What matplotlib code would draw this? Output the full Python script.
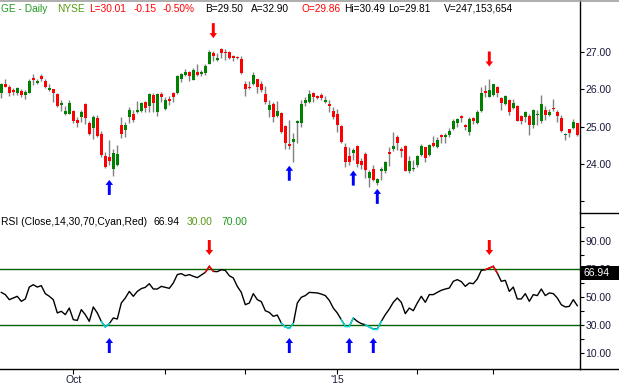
import numpy as np
import matplotlib.pyplot as plt
from matplotlib.transforms import blended_transform_factory, offset_copy
from matplotlib.lines import Line2D
from matplotlib.patches import Rectangle

plt.rcParams['font.family'] = ['Liberation Sans', 'DejaVu Sans']

# daily OHLC (Sep 2014 - Mar 2015)
opens = [25.89, 26.14, 26.05, 25.98, 25.89, 25.95, 25.84, 25.91, 26.30, 26.17,
         26.36, 26.22, 25.97, 26.01, 25.88, 25.59, 25.35, 25.35, 25.42, 25.19,
         25.27, 25.61, 25.10, 24.97, 25.23, 24.80, 24.21, 24.19, 23.86, 23.98,
         25.05, 24.91, 25.27, 25.34, 25.39, 25.42, 25.66, 25.56, 25.85, 25.39,
         25.88, 25.47, 25.74, 25.90, 25.89, 26.29, 26.39, 26.46, 26.26, 26.46,
         26.42, 26.45, 26.69, 26.98, 26.79, 27.08, 27.01, 27.01, 26.90, 26.86,
         26.81, 26.15, 26.05, 26.14, 26.28, 26.13, 25.87, 25.45, 25.62, 25.29,
         25.36, 25.02, 24.54, 24.59, 25.11, 25.11, 25.63, 25.66, 25.91, 25.80,
         25.85, 25.67, 25.61, 25.43, 25.34, 25.02, 24.46, 24.21, 24.30, 24.48,
         24.07, 24.26, 23.62, 23.86, 23.48, 23.82, 23.82, 24.30, 24.39, 24.73,
         24.40, 24.49, 23.82, 23.87, 23.97, 24.24, 24.45, 24.24, 24.55, 24.46,
         24.78, 24.71, 24.78, 24.95, 25.09, 25.29, 25.05, 24.87, 25.22, 25.11,
         25.43, 25.96, 25.80, 25.85, 26.07, 25.76, 25.61, 25.71, 25.49, 25.54,
         25.29, 25.27, 25.29, 25.05, 25.31, 25.16, 25.45, 25.31, 25.47, 25.40,
         25.22, 24.78, 24.93, 24.97, 25.11]
highs = [26.16, 26.27, 26.11, 26.03, 26.07, 26.00, 25.98, 26.27, 26.41, 26.27,
         26.41, 26.27, 26.14, 26.02, 25.89, 25.71, 25.54, 25.71, 25.45, 25.27,
         25.45, 25.64, 25.16, 25.30, 25.31, 24.89, 24.33, 24.64, 24.39, 24.50,
         25.27, 25.13, 25.52, 25.45, 25.69, 25.67, 25.70, 25.91, 25.91, 25.89,
         25.93, 25.80, 25.82, 25.93, 26.38, 26.43, 26.54, 26.50, 26.56, 26.68,
         26.52, 26.68, 27.05, 27.04, 26.96, 27.11, 27.07, 27.04, 26.93, 26.88,
         26.89, 26.22, 26.21, 26.47, 26.29, 26.21, 26.09, 25.71, 25.66, 25.70,
         25.40, 25.04, 25.18, 24.82, 25.18, 25.71, 25.80, 25.98, 25.94, 25.84,
         25.89, 25.82, 25.71, 25.52, 25.46, 25.04, 24.57, 24.45, 24.42, 24.51,
         24.15, 24.33, 23.84, 23.97, 23.62, 23.93, 24.09, 24.46, 24.86, 24.78,
         24.45, 24.51, 24.22, 24.11, 24.24, 24.54, 24.46, 24.54, 24.75, 24.71,
         24.80, 24.84, 24.96, 25.20, 25.22, 25.30, 25.07, 25.27, 25.25, 25.45,
         26.07, 26.12, 26.29, 26.14, 26.09, 25.79, 25.84, 25.73, 25.73, 25.58,
         25.31, 25.43, 25.34, 25.46, 25.45, 25.85, 25.54, 25.46, 25.73, 25.45,
         25.31, 24.84, 24.95, 25.20, 25.11]
lows = [25.78, 26.05, 25.82, 25.84, 25.84, 25.79, 25.75, 25.89, 26.11, 26.13,
        26.22, 26.04, 25.95, 25.67, 25.52, 25.43, 25.31, 25.33, 25.09, 25.00,
        25.13, 25.07, 24.77, 24.66, 24.72, 24.20, 23.89, 23.97, 23.68, 23.95,
        24.69, 24.71, 25.11, 25.12, 25.36, 25.38, 25.39, 25.39, 25.38, 25.29,
        25.67, 25.45, 25.57, 25.66, 25.87, 26.20, 26.36, 26.23, 26.25, 26.36,
        26.37, 26.39, 26.67, 26.76, 26.77, 26.85, 26.79, 26.80, 26.77, 26.80,
        26.41, 25.83, 26.00, 26.12, 25.91, 25.94, 25.61, 25.27, 25.13, 25.27,
        24.82, 24.40, 24.39, 24.06, 24.55, 25.00, 25.55, 25.63, 25.66, 25.75,
        25.71, 25.63, 25.40, 25.20, 24.87, 24.55, 23.93, 23.97, 24.11, 23.93,
        23.86, 23.63, 23.39, 23.55, 23.44, 23.57, 23.75, 23.95, 24.36, 24.37,
        24.20, 23.80, 23.77, 23.82, 23.93, 24.22, 24.06, 24.22, 24.46, 24.42,
        24.55, 24.55, 24.71, 24.91, 24.98, 25.13, 24.91, 24.78, 25.07, 25.07,
        25.40, 25.80, 25.79, 25.82, 25.79, 25.45, 25.58, 25.31, 25.46, 25.14,
        25.07, 25.13, 24.78, 24.96, 25.05, 25.11, 25.18, 25.29, 25.43, 25.13,
        24.87, 24.64, 24.71, 24.94, 24.76]
closes = [26.13, 26.07, 25.89, 25.94, 26.03, 25.86, 25.93, 26.22, 26.25, 26.22,
          26.27, 26.07, 26.04, 25.91, 25.54, 25.64, 25.43, 25.64, 25.16, 25.11,
          25.39, 25.22, 24.79, 25.26, 24.75, 24.24, 23.93, 24.09, 24.29, 24.27,
          24.81, 25.05, 25.45, 25.18, 25.45, 25.63, 25.50, 25.88, 25.64, 25.88,
          25.80, 25.71, 25.70, 25.80, 26.36, 26.41, 26.46, 26.36, 26.52, 26.38,
          26.47, 26.62, 27.01, 26.90, 26.85, 26.98, 26.98, 26.85, 26.85, 26.84,
          26.45, 26.01, 26.03, 26.38, 26.07, 25.98, 25.67, 25.58, 25.27, 25.42,
          24.87, 24.57, 24.48, 24.68, 25.16, 25.62, 25.71, 25.87, 25.80, 25.78,
          25.78, 25.72, 25.56, 25.27, 25.04, 24.60, 24.06, 24.06, 24.38, 24.00,
          23.97, 23.84, 23.78, 23.57, 23.59, 23.87, 24.06, 24.28, 24.48, 24.57,
          24.36, 23.82, 24.08, 23.90, 24.22, 24.48, 24.15, 24.51, 24.49, 24.64,
          24.71, 24.78, 24.89, 25.15, 25.20, 25.24, 25.00, 25.21, 25.16, 25.40,
          25.91, 25.89, 25.98, 26.13, 25.89, 25.64, 25.82, 25.40, 25.64, 25.16,
          25.15, 25.40, 25.05, 25.45, 25.33, 25.62, 25.31, 25.40, 25.46, 25.29,
          24.89, 24.80, 24.84, 25.13, 24.78]

# RSI(14) line as drawn in the lower panel
rsi = [53.3, 51.7, 48.1, 49.3, 50.5, 46.9, 48.6, 57.1, 58.8, 57.1,
       58.1, 52.4, 50.5, 48.1, 38.6, 39.8, 37.4, 42.1, 33.8, 33.3,
       41.0, 37.4, 32.6, 42.9, 38.6, 32.6, 28.6, 31.0, 35.0, 34.3,
       45.7, 49.3, 54.0, 50.5, 54.0, 56.0, 56.9, 59.5, 55.7, 55.7,
       57.6, 56.9, 56.2, 60.0, 66.0, 66.7, 65.2, 66.0, 64.8, 63.8,
       65.7, 67.6, 71.9, 68.3, 68.1, 69.5, 69.0, 65.2, 63.6, 57.6,
       53.3, 44.5, 45.7, 52.4, 48.1, 46.7, 40.2, 39.0, 36.2, 37.1,
       31.4, 28.6, 27.6, 31.0, 45.7, 49.8, 51.0, 53.3, 53.1, 52.9,
       52.1, 51.0, 47.6, 42.1, 38.6, 33.8, 29.0, 29.0, 35.0, 32.6,
       31.0, 30.2, 28.6, 27.1, 27.1, 32.6, 37.4, 41.4, 46.2, 49.3,
       46.2, 38.1, 42.1, 40.2, 45.7, 50.5, 46.2, 51.7, 51.7, 53.3,
       54.8, 55.7, 56.4, 61.2, 62.4, 61.0, 57.6, 60.0, 59.5, 62.9,
       69.0, 69.5, 70.7, 71.9, 67.1, 61.2, 61.9, 54.0, 57.1, 48.6,
       48.6, 52.4, 46.9, 51.7, 51.0, 55.7, 51.0, 52.9, 52.4, 49.3,
       44.5, 42.9, 43.3, 48.1, 43.8]
rsi_last = 66.94

# month boundaries (bar index) and their labels
month_ticks = [18, 41, 61, 84, 104, 123]
month_labels = ['Oct', '', '', "'15", '', '']

# signal arrows (bar index)
price_buy = [27, 72, 88, 94]
price_sell = [53, 122]
rsi_buy = [27, 72, 87, 93]
rsi_sell = [52, 122]

opens = np.array(opens)
highs = np.array(highs)
lows = np.array(lows)
closes = np.array(closes)
rsi = np.array(rsi)
idx = np.arange(len(closes))

W, H = 619, 387
fig = plt.figure(figsize=(W / 100, H / 100), dpi=100)
ax1 = fig.add_axes([0, (H - 213) / H, 580 / W, 213 / H])
ax2 = fig.add_axes([0, (H - 369) / H, 580 / W, 156 / H])

label_col = '#1a1a3a'

# --- price panel ---
up = closes >= opens
colors = np.where(up, '#008000', '#ff0000')
ax1.vlines(idx, lows, highs, color='#808080', lw=1, zorder=1)
body = np.maximum(np.abs(closes - opens), 0.03)
ax1.bar(idx, body, bottom=np.minimum(opens, closes), width=0.8,
        color=colors, linewidth=0, zorder=2)

ax1.set_xlim(-0.325, 144.675)
ax1.set_ylim(22.687, 28.393)
ax1.set_xticks([])
ax1.yaxis.tick_right()
ax1.set_yticks([23, 24, 25, 26, 27])
ax1.set_yticklabels(['', '24.00', '25.00', '26.00', '27.00'])
for s in ['left', 'top', 'bottom']:
    ax1.spines[s].set_visible(False)
ax1.spines['right'].set_linewidth(1)
ax1.tick_params(axis='y', direction='out', length=3, width=0.8, pad=1,
                labelsize=7.5, labelcolor=label_col)

arrow_style = 'simple,head_length=0.6,head_width=0.9,tail_width=0.35'


def arrow(ax, x, y, tip_off, tail_off, color):
    ax.annotate('', xy=(x, y),
                xycoords=offset_copy(ax.transData, fig=fig, y=tip_off, units='dots'),
                xytext=(x, y),
                textcoords=offset_copy(ax.transData, fig=fig, y=tail_off, units='dots'),
                arrowprops=dict(arrowstyle=arrow_style, color=color, lw=0,
                                shrinkA=0, shrinkB=0, mutation_scale=6),
                annotation_clip=False)


for k in price_buy:
    arrow(ax1, k, lows[k - 1:k + 2].min(), -4, -19, '#0000ff')
for k in price_sell:
    arrow(ax1, k, highs[k - 1:k + 2].max(), 12, 27, '#ff0000')

# --- RSI panel ---
ax2.axhline(70, color='#006400', lw=1)
ax2.axhline(30, color='#006400', lw=1)
ax2.plot(idx, rsi, color='black', lw=1, zorder=3)
for i in range(len(rsi) - 1):
    seg = rsi[i:i + 2]
    if seg.min() < 30:
        ax2.plot(idx[i:i + 2], seg, color='#00e5e5', lw=1, zorder=4)
    elif seg.max() > 70:
        ax2.plot(idx[i:i + 2], seg, color='#ff0000', lw=1, zorder=4)

for k in rsi_buy:
    arrow(ax2, k, 30, -13, -28, '#0000ff')
for k in rsi_sell:
    arrow(ax2, k, 70, 14, 29, '#ff0000')

ax2.set_xlim(-0.325, 144.675)
ax2.set_ylim(-1.43, 110)
ax2.yaxis.tick_right()
ax2.set_yticks(range(10, 101, 10))
ax2.set_yticklabels(['10.00', '', '30.00', '', '50.00', '', '70.00', '', '90.00', ''])
ax2.set_xticks(month_ticks)
ax2.set_xticklabels(month_labels)
for s in ['left', 'top']:
    ax2.spines[s].set_visible(False)
ax2.spines['right'].set_linewidth(1)
ax2.spines['bottom'].set_linewidth(1)
ax2.tick_params(axis='y', direction='out', length=3, width=0.8, pad=1,
                labelsize=7.5, labelcolor=label_col)
ax2.tick_params(axis='x', direction='out', length=3.5, width=0.8, pad=1,
                labelsize=7.5, labelcolor=label_col)

# current value box on the right axis
tr = blended_transform_factory(ax2.transAxes, ax2.transData)
ax2.add_patch(Rectangle((1.0, rsi_last - 5), 39 / 580, 10, transform=tr,
                        facecolor='black', edgecolor='none', clip_on=False, zorder=5))
ax2.text(1.0 + 4 / 580, rsi_last, f'{rsi_last:.2f}', transform=tr, color='white',
         fontsize=7.5, va='center', ha='left', zorder=6, clip_on=False)

# frame lines outside the plot area
fig.add_artist(Line2D([0, 1], [1 - 0.6 / H] * 2, transform=fig.transFigure,
                      color='#a0a0a0', lw=1.2))
fig.add_artist(Line2D([580 / W, 1], [1 - 213 / H] * 2, transform=fig.transFigure,
                      color='black', lw=1))
fig.add_artist(Line2D([580 / W, 1], [1 - 369 / H] * 2, transform=fig.transFigure,
                      color='black', lw=1))

# header line
header = [(1, 'GE - Daily', '#1f9a1f'), (57, 'NYSE', '#559a10'),
          (89, 'L=30.01', '#ff0000'), (134, '-0.15', '#ff0000'),
          (163, '-0.50%', '#ff0000'), (205, 'B=29.50', 'black'),
          (251, 'A=32.90', 'black'), (302, 'O=29.86', '#ff0000'),
          (344, 'Hi=30.49', 'black'), (388, 'Lo=29.81', 'black'),
          (444, 'V=247,153,654', 'black')]
for x, s, c in header:
    fig.text(x / W, 1 - 8.5 / H, s, color=c, fontsize=7.3, va='center', ha='left')

rsi_title = [(1, 'RSI (Close,14,30,70,Cyan,Red)', 'black'), (153, '66.94', 'black'),
             (187, '30.00', '#559a10'), (221, '70.00', '#1f9a1f')]
for x, s, c in rsi_title:
    fig.text(x / W, 1 - 222 / H, s, color=c, fontsize=7.5, va='center', ha='left')

fig.savefig('out.png', dpi=100)
